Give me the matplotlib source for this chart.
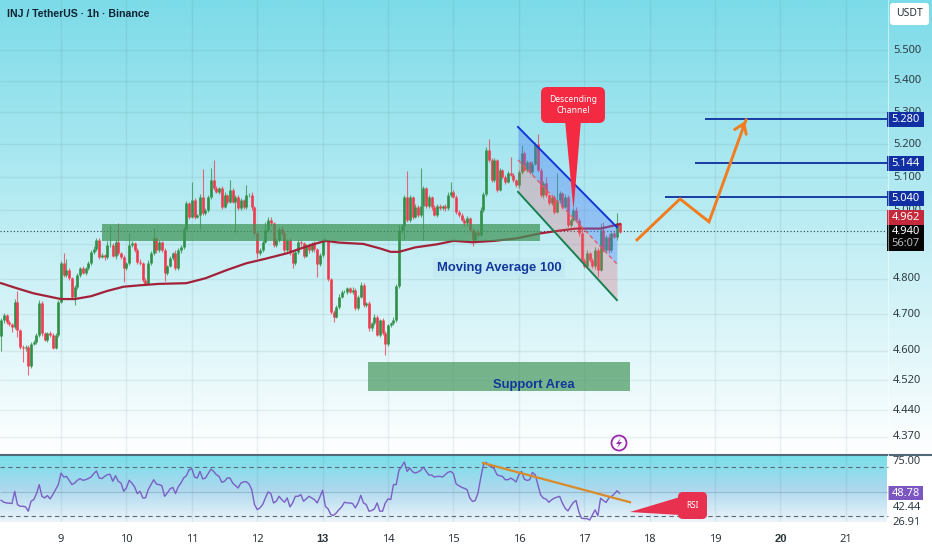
import matplotlib
matplotlib.use('Agg')
import matplotlib.pyplot as plt
from matplotlib.patches import FancyBboxPatch, Polygon, Rectangle, Circle
from matplotlib.ticker import NullLocator
from matplotlib.transforms import blended_transform_factory
import numpy as np

plt.rcParams['font.family'] = ['Noto Sans', 'DejaVu Sans']

W, H = 932, 550

# chart data
start_day = 8 + 2 / 24
first_open = 4.640
closes = [
    4.684, 4.698, 4.679, 4.673, 4.664, 4.736, 4.656, 4.610, 4.606, 4.610, 4.558, 4.618,
    4.624, 4.643, 4.733, 4.647, 4.629, 4.647, 4.643, 4.608, 4.643, 4.736, 4.845, 4.812,
    4.826, 4.802, 4.750, 4.778, 4.812, 4.831, 4.817, 4.831, 4.845, 4.879, 4.886, 4.912,
    4.864, 4.869, 4.864, 4.898, 4.898, 4.866, 4.907, 4.874, 4.864, 4.831, 4.845, 4.898,
    4.903, 4.884, 4.850, 4.845, 4.797, 4.787, 4.845, 4.874, 4.917, 4.884, 4.907, 4.884,
    4.818, 4.837, 4.860, 4.874, 4.831, 4.884, 4.893, 4.946, 5.021, 4.981, 5.031, 4.981,
    4.986, 5.039, 4.991, 5.001, 5.039, 5.091, 5.066, 5.056, 5.066, 5.011, 5.046, 5.026,
    5.061, 5.026, 5.041, 5.006, 5.031, 5.009, 5.046, 5.046, 5.009, 4.932, 4.874, 4.884,
    4.907, 4.941, 4.971, 4.961, 4.898, 4.912, 4.946, 4.932, 4.884, 4.912, 4.874, 4.845,
    4.879, 4.907, 4.903, 4.866, 4.898, 4.882, 4.903, 4.886, 4.843, 4.869, 4.912, 4.912,
    4.799, 4.707, 4.693, 4.722, 4.750, 4.764, 4.764, 4.773, 4.764, 4.768, 4.717, 4.750,
    4.783, 4.726, 4.731, 4.661, 4.675, 4.693, 4.643, 4.684, 4.647, 4.618, 4.670, 4.675,
    4.684, 4.780, 4.941, 4.953, 5.039, 4.971, 5.039, 4.981, 5.011, 4.986, 5.013, 5.066,
    5.013, 5.039, 5.009, 4.986, 5.013, 5.006, 5.013, 5.006, 5.046, 5.056, 5.041, 4.996,
    4.986, 4.971, 4.961, 4.976, 4.941, 4.912, 4.936, 4.927, 5.001, 5.049, 5.182, 5.151,
    5.091, 5.151, 5.061, 5.121, 5.101, 5.086, 5.111, 5.106, 5.091, 5.076, 5.116, 5.172,
    5.121, 5.146, 5.116, 5.141, 5.202, 5.121, 5.046, 5.081, 5.046, 5.021, 5.041, 4.996,
    5.031, 5.051, 5.011, 5.041, 4.956, 4.971, 5.001, 4.971, 4.932, 4.855, 4.836, 4.874,
    4.855, 4.836, 4.884, 4.826, 4.941, 4.884, 4.922, 4.884, 4.932, 4.922, 4.961, 4.936,
]
# wick lengths, in thousandths of a USDT
upper_wick = [
    5, 6, 4, 5, 3, 8, 29, 4, 6, 5, 4, 6,
    5, 4, 6, 4, 5, 3, 6, 4, 5, 4, 6, 30,
    30, 4, 3, 5, 6, 4, 5, 3, 6, 5, 8, 6,
    5, 6, 4, 12, 58, 5, 8, 55, 4, 6, 5, 35,
    6, 4, 5, 6, 3, 5, 8, 6, 30, 4, 6, 3,
    5, 4, 6, 5, 8, 4, 6, 5, 8, 5, 55, 6,
    4, 10, 85, 5, 8, 35, 60, 6, 5, 6, 8, 4,
    30, 5, 4, 6, 5, 4, 30, 5, 8, 4, 6, 5,
    6, 25, 10, 8, 4, 6, 5, 8, 6, 4, 5, 6,
    5, 8, 6, 5, 4, 6, 5, 8, 4, 5, 6, 5,
    4, 5, 6, 4, 8, 5, 6, 4, 5, 8, 6, 5,
    8, 5, 4, 6, 5, 8, 6, 4, 5, 6, 4, 5,
    8, 6, 15, 6, 8, 80, 6, 5, 8, 4, 115, 8,
    5, 6, 4, 8, 5, 6, 4, 5, 8, 30, 6, 5,
    4, 6, 5, 8, 4, 6, 5, 6, 8, 6, 10, 35,
    6, 8, 5, 6, 4, 5, 8, 50, 6, 4, 5, 25,
    6, 5, 4, 8, 6, 30, 5, 6, 20, 4, 6, 5,
    80, 6, 5, 8, 4, 6, 5, 8, 5, 12, 6, 8,
    5, 6, 8, 5, 20, 25, 6, 8, 5, 6, 30, 4,
]
lower_wick = [
    40, 8, 6, 5, 12, 6, 20, 5, 38, 6, 25, 5,
    4, 6, 5, 6, 4, 5, 6, 4, 5, 6, 4, 5,
    6, 5, 4, 24, 6, 5, 4, 6, 5, 4, 6, 5,
    8, 5, 10, 6, 5, 4, 8, 5, 6, 40, 5, 4,
    6, 5, 8, 4, 6, 5, 4, 6, 5, 8, 6, 5,
    24, 6, 4, 5, 6, 5, 8, 6, 5, 6, 4, 8,
    5, 40, 6, 4, 5, 6, 5, 4, 8, 6, 5, 6,
    4, 5, 90, 6, 5, 4, 6, 5, 8, 6, 15, 5,
    6, 4, 5, 8, 6, 5, 4, 6, 8, 5, 6, 15,
    5, 6, 8, 5, 4, 6, 5, 8, 36, 5, 6, 4,
    6, 5, 15, 4, 6, 5, 4, 6, 5, 8, 6, 5,
    4, 6, 5, 8, 6, 5, 4, 6, 5, 30, 6, 5,
    4, 6, 5, 8, 40, 6, 5, 8, 4, 6, 5, 100,
    6, 5, 8, 4, 6, 5, 4, 8, 5, 6, 4, 6,
    5, 4, 8, 6, 5, 18, 6, 5, 4, 6, 5, 4,
    6, 5, 5, 4, 8, 6, 5, 4, 6, 5, 8, 6,
    4, 5, 6, 8, 4, 6, 5, 8, 6, 5, 4, 6,
    5, 8, 6, 4, 5, 6, 4, 5, 8, 6, 5, 4,
    6, 5, 8, 20, 4, 6, 5, 8, 6, 5, 10, 4,
]
ma_hours = [0, 6, 12, 17, 22, 27, 33, 39, 45, 51, 58, 68, 75, 83, 90, 97, 105,
            110, 115, 119, 124, 133, 139, 143, 146, 152, 160, 166, 173, 181, 189,
            198, 204, 211, 220, 227]
ma_values = [4.788, 4.773, 4.759, 4.751, 4.743, 4.743, 4.751, 4.766, 4.778, 4.782,
             4.786, 4.788, 4.802, 4.826, 4.845, 4.858, 4.874, 4.888, 4.901, 4.910,
             4.905, 4.901, 4.888, 4.878, 4.878, 4.891, 4.900, 4.910, 4.906, 4.910,
             4.917, 4.932, 4.939, 4.946, 4.946, 4.959]
rsi = [
    43, 41.4, 40.8, 40.6, 40.3, 50.3, 39.5, 38.1, 38.1, 37.6, 34.1, 42.2, 43.5, 48.4, 55.7,
    46.2, 44.9, 46.8, 44.1, 47.6, 51.6, 55.7, 65.1, 61.9, 62.4, 59.2, 55.7, 57, 59.2, 60.6,
    59.2, 59.7, 60.6, 61.9, 64.6, 66.8, 61.1, 60.6, 62.4, 63.8, 64.1, 58.4, 63, 58.4, 57,
    50.3, 53, 59.2, 57, 53.8, 48.4, 50.3, 44.9, 44.9, 51.6, 55.7, 59.7, 56.2, 55.7, 54.9,
    46.2, 48.9, 52.2, 53.5, 48.4, 53.8, 57, 61.1, 63, 67.8, 68.7, 61.9, 61.1, 66.5, 60.3,
    61.1, 64.6, 68.4, 66.5, 63.8, 62.4, 57.6, 58.4, 61.1, 61.1, 57, 54.9, 53, 57, 57.9,
    58.1, 56.2, 51.6, 39.5, 35.4, 36.8, 39.5, 44.9, 49.8, 48.4, 40.8, 42.2, 46.2, 43.5, 41.4,
    44.9, 37.6, 40.8, 46.2, 46.2, 47.6, 42.2, 44.1, 46.2, 44.9, 43.5, 40.8, 45.7, 51.1, 38.1,
    36, 31.4, 30.6, 32.7, 35.4, 37.6, 41.4, 40.8, 40.8, 40.3, 36.8, 40.8, 47, 40.8, 39.5,
    34.1, 34.6, 36, 40.8, 34.1, 34.1, 40.8, 44.1, 43.5, 55.7, 55.7, 67.3, 70.5, 74.1, 66.5,
    69.2, 66.2, 65.1, 66, 67.3, 70, 66.5, 63.5, 63.5, 61.9, 62.4, 62.4, 61.9, 63.8, 65.7,
    66.5, 64.6, 56.2, 54.9, 53.5, 52.7, 51.6, 44.9, 42, 42.8, 48.8, 61, 71.9, 73.8, 71.1,
    70.5, 68.4, 63.7, 62.9, 62.4, 59.7, 59.7, 61, 59.7, 57.8, 63.7, 66.5, 60.2, 59.1, 59.7,
    65.6, 63.7, 55.6, 47.4, 44.7, 43.9, 41.4, 43.3, 44.7, 45.5, 46.1, 40.6, 36.5, 34.3, 37.9,
    41.2, 42.8, 33.8, 28.4, 28.1, 28.1, 26.91, 31.1, 35.2, 30.3, 44.7, 42.8, 41.2, 44.7, 46.1,
    48, 50.7, 48.78,
]
price_grid = [5.5, 5.4, 5.3, 5.2, 5.1, 5.0, 4.9, 4.8, 4.7, 4.6, 4.52, 4.44, 4.37]
price_ticks = [5.5, 5.4, 5.3, 5.2, 5.1, 5.0, 4.8, 4.7, 4.6, 4.52, 4.44, 4.37]
price_labels = ['5.500', '5.400', '5.300', '5.200', '5.100', '5.000',
                '4.800', '4.700', '4.600', '4.520', '4.440', '4.370']
day_ticks = [9, 10, 11, 12, 13, 14, 15, 16, 17, 18, 19, 20, 21]
target_prices = [5.28, 5.144, 5.04]
target_starts = [18.847, 18.694, 18.235]
target_labels = ['5.280', '5.144', '5.040']
last_price = 4.94
projection_days = [17.807, 18.465, 18.908, 19.474]
projection_prices = [4.913, 5.034, 4.966, 5.276]
channel_days = [15.988, 17.50]
channel_top = [5.254, 4.950]
channel_mid = [5.152, 4.843]
channel_low = [5.055, 4.740]
rsi_trend_days = [15.453, 17.70]
rsi_trend_values = [73.3, 41.4]

UP = '#2f8f46'
DOWN = '#ef3b4e'
NAVY = '#0b2f9f'
GRID = (0.25, 0.42, 0.50, 0.10)
XLIM = (8.067, 21.66)
BOLD_FONT = ['Liberation Sans', 'DejaVu Sans']

fig = plt.figure(figsize=(W / 100, H / 100), dpi=100, facecolor='white')

def pane(top, bottom, right=889, zorder=2):
    ax = fig.add_axes([0, 1 - bottom / H, right / W, (bottom - top) / H], zorder=zorder)
    ax.patch.set_alpha(0)
    for s in ax.spines.values():
        s.set_visible(False)
    return ax

# gradient backdrop
bg = fig.add_axes([0, 0, 1, 1], zorder=0)
bg.set_xlim(0, W)
bg.set_ylim(H, 0)
bg.axis('off')
main_grad = np.zeros((256, 1, 3))
for c, top_c in enumerate((124, 219, 232)):
    main_grad[:, 0, c] = np.linspace(top_c, 255, 256) / 255
bg.imshow(main_grad, extent=(0, W, 455, 0), aspect='auto')
pos = np.linspace(0, 1, 128)
rsi_grad = np.zeros((128, 1, 3))
for c, stops in enumerate(((118, 172, 236), (224, 216, 244), (234, 238, 250))):
    rsi_grad[:, 0, c] = np.interp(pos, [0, 0.5, 1], stops) / 255
bg.imshow(rsi_grad, extent=(0, 887, 522, 455), aspect='auto', interpolation='bilinear')
bg.set_xlim(0, W)
bg.set_ylim(H, 0)

# price pane
ax = pane(0, 455)
ax.set_yscale('log')
ax.set_xlim(*XLIM)
ax.set_ylim(4.323, 5.666)
ax.xaxis.set_major_locator(NullLocator())
ax.yaxis.set_major_locator(NullLocator())
ax.yaxis.set_minor_locator(NullLocator())
ax.hlines(price_grid, *XLIM, color=GRID, lw=1, zorder=1)
ax.vlines(day_ticks, 4.323, 5.666, color=GRID, lw=1, zorder=1)

closes_a = np.array(closes)
opens_a = np.r_[first_open, closes_a[:-1]]
days = start_day + np.arange(len(closes_a)) / 24
highs = np.maximum(opens_a, closes_a) + np.array(upper_wick) / 1000
lows = np.minimum(opens_a, closes_a) - np.array(lower_wick) / 1000
colors = [UP if c >= o else DOWN for o, c in zip(opens_a, closes_a)]
ax.vlines(days, lows, highs, color=colors, lw=0.8, alpha=0.75, zorder=3)
ax.vlines(days, opens_a, closes_a, color=colors, lw=1.9, zorder=3)

ax.plot(start_day + np.array(ma_hours) / 24, ma_values, color='#a32139', lw=1.6, zorder=4)
ax.axhline(last_price, color='#25404a', lw=0.8, ls=(0, (1, 2)), zorder=2)

# channel
ax.fill_between(channel_days, channel_mid, channel_top, color='#4f7df5', alpha=0.38, lw=0, zorder=5)
ax.fill_between(channel_days, channel_low, channel_mid, color='#f0606e', alpha=0.28, lw=0, zorder=5)
ax.plot(channel_days, channel_top, color='#1237d8', lw=1.4, zorder=6)
ax.plot(channel_days, channel_mid, color='#d9606e', lw=1, ls=(0, (3, 2)), zorder=6)
ax.plot(channel_days, channel_low, color='#188050', lw=1.4, zorder=6)

# zones
ax.fill_between([9.63, 16.33], 4.909, 4.960, color='#3f9457', alpha=0.72, lw=0, zorder=5)
ax.fill_between([13.70, 17.70], 4.491, 4.569, color='#3f9457', alpha=0.68, lw=0, zorder=2)

# targets and projected path
ax.hlines(target_prices, target_starts, XLIM[1], color=NAVY, lw=1.3, zorder=5)
ax.plot(projection_days, projection_prices, color='#f27c1e', lw=2.1, zorder=6, solid_joinstyle='miter')
ax.annotate('', xy=(projection_days[-1], projection_prices[-1] + 0.004),
            xytext=(projection_days[-1] - 0.07, projection_prices[-1] - 0.03),
            arrowprops=dict(arrowstyle='->,head_width=0.45,head_length=0.65', color='#f27c1e', lw=2.1),
            zorder=6)

tr = blended_transform_factory(ax.transAxes, ax.transData)
for p, lab in zip(price_ticks, price_labels):
    ax.text(907 / 889, p, lab, transform=tr, ha='center', va='center', fontsize=8, color='#303c44', zorder=1)

# rsi pane
ax2 = pane(455, 522)
ax2.set_xlim(*XLIM)
ax2.set_ylim(25.3, 79.8)
ax2.yaxis.set_major_locator(NullLocator())
ax2.set_xticks(day_ticks)
ax2.set_xticklabels([str(d) for d in day_ticks], fontsize=8, color='#2a3338')
for t in ax2.get_xticklabels():
    if t.get_text() in ('13', '20'):
        t.set_fontweight('bold')
        t.set_family(BOLD_FONT)
ax2.tick_params(axis='x', length=0, pad=9)
ax2.vlines(day_ticks, 25.3, 79.8, color=GRID, lw=1, zorder=1)
ax2.hlines([70, 30], *XLIM, color='#5b6b78', lw=0.8, ls=(0, (4, 3)), zorder=2)
ax2.hlines([50], *XLIM, color='#5b6b78', lw=0.8, alpha=0.3, zorder=2)
ax2.plot(start_day + np.arange(len(rsi)) / 24, rsi, color='#7a5fc4', lw=1, zorder=4)
ax2.plot(rsi_trend_days, rsi_trend_values, color='#d98a2a', lw=1.6, zorder=5)

# overlay in pixels: axis chips and callouts
ov = fig.add_axes([0, 0, 1, 1], zorder=5)
ov.set_xlim(0, W)
ov.set_ylim(H, 0)
ov.axis('off')
ov.patch.set_alpha(0)

ov.plot([0, 932], [454.5, 454.5], color='#4f6a78', lw=1.5)
ov.plot([887.5, 887.5], [0, 455], color='#ffffff', lw=0.8, alpha=0.5)
ov.plot([887.5, 887.5], [455, 522], color='#ffffff', lw=0.8, alpha=0.5)

ov.add_patch(FancyBboxPatch((892, 5), 35, 18, boxstyle='round,pad=2,rounding_size=3', fc='white', ec='none'))
ov.text(909.5, 14, 'USDT', ha='center', va='center', fontsize=7.5, color='#28323a')
ov.text(7, 14, 'INJ / TetherUS · 1h · Binance', ha='left', va='center', fontsize=7.6,
        fontweight='bold', family=BOLD_FONT, color='#0f2233')

for lab, yc in zip(target_labels, (119.5, 163.5, 198.5)):
    ov.add_patch(Rectangle((887, yc - 7.5), 37, 15, fc='#0f2fa3', ec='none'))
    ov.text(905.5, yc, lab, ha='center', va='center', fontsize=8, color='white')
ov.add_patch(Rectangle((887, 210), 37, 15, fc='#c42a3b', ec='none'))
ov.text(905.5, 217.5, '4.962', ha='center', va='center', fontsize=8, color='white')
ov.add_patch(Rectangle((887, 225), 37, 26, fc='#050505', ec='none'))
ov.text(905.5, 232, '4.940', ha='center', va='center', fontsize=8, color='white')
ov.text(905.5, 243.5, '56:07', ha='center', va='center', fontsize=8, color='#b8b8b8')

ov.text(907, 461.5, '75.00', ha='center', va='center', fontsize=8, color='#303c44')
ov.add_patch(Rectangle((888, 486), 35, 14, fc='#7d57c1', ec='none'))
ov.text(905.5, 493, '48.78', ha='center', va='center', fontsize=8, color='white')
ov.text(907, 508, '42.44', ha='center', va='center', fontsize=8, color='#303c44')
ov.text(907, 522.5, '26.91', ha='center', va='center', fontsize=8, color='#303c44')

ov.text(499, 268, 'Moving Average 100', ha='center', va='center', fontsize=9.4, color='#12379b',
        fontweight='bold', family=BOLD_FONT, bbox=dict(fc='#bfe6f0', ec='none', alpha=0.55, pad=2.5))
ov.text(534, 385, 'Support Area', ha='center', va='center', fontsize=9.4, color='#12379b',
        fontweight='bold', family=BOLD_FONT)

RED = '#f42a43'
ov.add_patch(Polygon([(565, 120), (581, 120), (573.5, 210)], fc=RED, ec='none'))
ov.add_patch(FancyBboxPatch((545, 91), 56, 28, boxstyle='round,pad=4,rounding_size=6', fc=RED, ec='none'))
ov.text(573, 105, 'Descending\nChannel', ha='center', va='center', fontsize=6.2, color='white', linespacing=1.15)

RED2 = '#e8304f'
ov.add_patch(Polygon([(630, 512), (680, 497), (680, 515)], fc=RED2, ec='none'))
ov.add_patch(FancyBboxPatch((682, 496), 21, 19, boxstyle='round,pad=4,rounding_size=5', fc=RED2, ec='none'))
ov.text(692.5, 505.5, 'RSI', ha='center', va='center', fontsize=6, color='white')

ov.add_patch(Circle((619, 443), 7.5, fc='none', ec='#9c27b0', lw=1.3))
ov.add_patch(Polygon([(621, 438), (616, 444), (619, 444), (617, 448), (622, 442), (619, 442)], fc='#9c27b0', ec='none'))

fig.savefig('out.png', dpi=100)
